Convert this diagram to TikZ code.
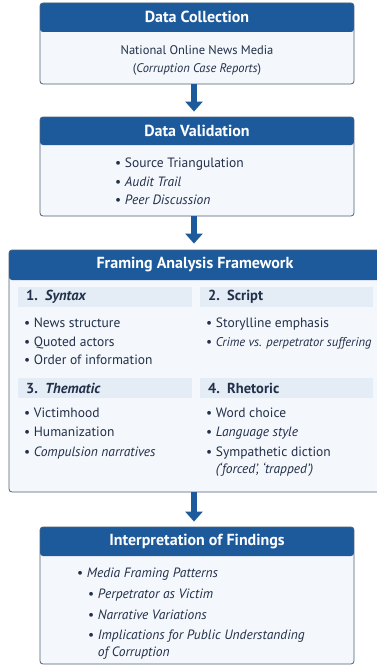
\documentclass[tikz,border=0pt]{standalone}
\usepackage{fontspec}
\setmainfont{PT Sans}
\usepackage{tikz}
\usetikzlibrary{arrows.meta,positioning}

\definecolor{headblue}{HTML}{1D5A9C}
\definecolor{bodyfill}{HTML}{F4F7FB}
\definecolor{subfill}{HTML}{E4EDF6}
\definecolor{frameline}{HTML}{4F6078}
\definecolor{inktext}{HTML}{22304A}

\tikzset{
  stage/.style={draw=frameline, fill=bodyfill, line width=0.8pt, rounded corners=3pt,
    path picture={\fill[headblue] (path picture bounding box.north west) rectangle
      ([yshift=-#1]path picture bounding box.north east);}},
  headtext/.style={text=white, font=\fontsize{16}{18}\selectfont\bfseries},
  bodytext/.style={text=inktext, font=\fontsize{13.5}{18.5}\selectfont, align=left, inner sep=0pt},
  subhead/.style={fill=subfill, text=inktext, font=\fontsize{14.5}{16}\selectfont\bfseries,
    anchor=north west, inner xsep=8pt, align=left, minimum height=20pt},
  flow/.style={draw=headblue, line width=5.5pt, -{Triangle[width=17pt,length=10pt]}},
}

\begin{document}
\begin{tikzpicture}[x=1pt, y=-1pt]
  \useasboundingbox (0,0) rectangle (376,669);

  % data collection
  \node[stage=29pt, minimum width=314pt, minimum height=81pt] (collect) at (197,43.5) {};
  \node[headtext] (collecthead) at ([yshift=-14.5pt]collect.north) {Data Collection};
  \node[bodytext, align=center, anchor=north, font=\fontsize{12.5}{18}\selectfont] (collectbody) at (197,45.5)
    {National Online News Media\\(\textit{Corruption Case Reports})};

  % data validation
  \node[stage=28pt, minimum width=314pt, minimum height=99pt] (valid) at (197,166.5) {};
  \node[headtext] (validhead) at ([yshift=-14pt]valid.north) {Data Validation};
  \node[bodytext, anchor=north west] (validbody) at (115,158)
    {\textbullet\ Source Triangulation\\
     \textbullet\ \textit{Audit Trail}\\
     \textbullet\ \textit{Peer Discussion}};

  % framing analysis
  \node[stage=30pt, minimum width=372pt, minimum height=242pt] (frame) at (195,371) {};
  \node[headtext] (framehead) at ([yshift=-15pt]frame.north) {Framing Analysis Framework};

  \node[subhead, text width=158pt] (syntax) at (18,287) {1. \textit{Syntax}};
  \node[subhead, text width=157pt] (script) at (200,287) {2. Script};
  \node[subhead, text width=158pt] (thematic) at (18,378) {3. \textit{Thematic}};
  \node[subhead, text width=157pt] (rhetoric) at (200,378) {4. Rhetoric};

  \node[bodytext, anchor=north west] (syntaxlist) at (24,318)
    {\textbullet\ News structure\\
     \textbullet\ Quoted actors\\
     \textbullet\ Order of information};
  \node[bodytext, anchor=north west] (scriptlist) at (206,318)
    {\textbullet\ Storylline emphasis\\
     \textbullet\ {\fontsize{12.6}{18.5}\selectfont\textit{Crime vs. perpetrator suffering}}};
  \node[bodytext, anchor=north west, font=\fontsize{13.5}{19.2}\selectfont] (thematiclist) at (24,408)
    {\textbullet\ Victimhood\\
     \textbullet\ Humanization\\
     \textbullet\ \textit{Compulsion narratives}};
  \node[bodytext, anchor=north west, font=\fontsize{13.5}{19.2}\selectfont] (rhetoriclist) at (206,408)
    {\textbullet\ Word choice\\
     \textbullet\ \textit{Language style}\\
     \textbullet\ Sympathetic diction\\[-1.5pt]
     \phantom{\textbullet\ }\textit{(‘forced’, ‘trapped’)}};

  % interpretation
  \node[stage=29pt, minimum width=314pt, minimum height=137pt] (interpret) at (197,595.5) {};
  \node[headtext] (interprethead) at ([yshift=-14.5pt]interpret.north) {Interpretation of Findings};
  \node[bodytext, anchor=north west] (interpretbody) at (77,568)
    {\textbullet\ \textit{Media Framing Patterns}\\[2.5pt]
     \hspace{11pt}\textbullet\ \textit{Perpetrator as Victim}\\[2pt]
     \hspace{11pt}\textbullet\ \textit{Narrative Variations}\\[2pt]
     \hspace{11pt}\textbullet\ \textit{Implications for Public Understanding}\\[-2pt]
     \hspace{11pt}\phantom{\textbullet\ }\textit{of Corruption}};

  % flow between stages
  \draw[flow] (collect.south -| 194,0) -- ([yshift=5pt]valid.north -| 194,0);
  \draw[flow] (valid.south -| 194,0) -- ([yshift=6pt]frame.north -| 194,0);
  \draw[flow] (frame.south -| 194,0) -- ([yshift=5pt]interpret.north -| 194,0);
\end{tikzpicture}
\end{document}
